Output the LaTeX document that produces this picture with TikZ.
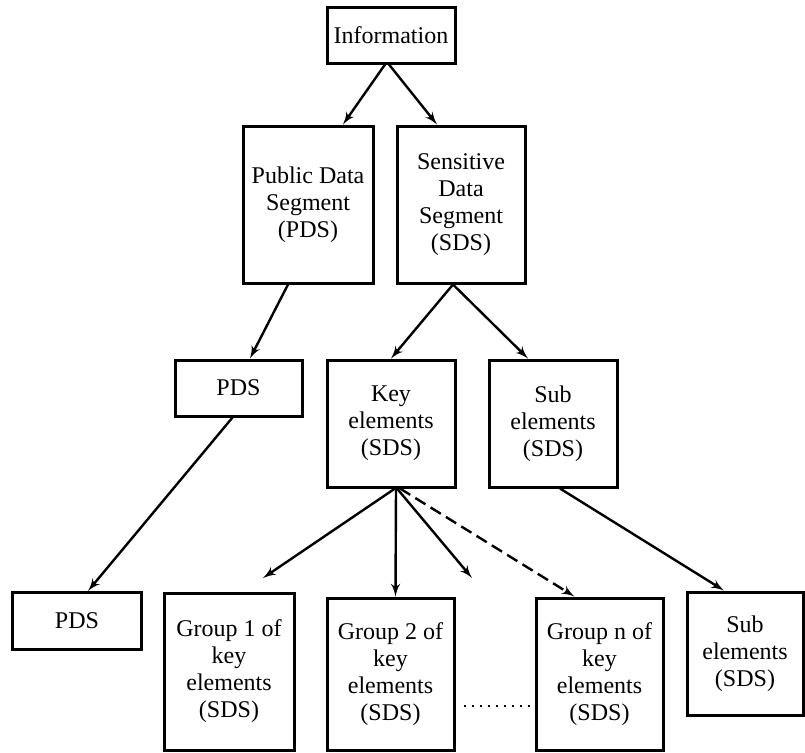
\documentclass[tikz,border=0pt]{standalone}
\usepackage{fontspec}
\setmainfont{Liberation Serif}
\usetikzlibrary{arrows}
\usetikzlibrary{positioning}
\usetikzlibrary{calc}

\begin{document}
\begin{tikzpicture}[->,>=latex', x=0.5pt, y=-0.5pt, line width=1.2pt]
            \tikzstyle{block}=[draw, line width=1.5pt, align=center, inner sep=2pt, font=\fontsize{12}{13.5}\selectfont]
            \useasboundingbox (0,0) rectangle (805,752);

            % top levels
            \node[block, minimum width=64pt, minimum height=28pt]     (info) at (391,35)    {Information};
            \node[block, minimum width=65pt, minimum height=78.5pt]   (pds)  at (308,204.5) {Public Data\\Segment\\(PDS)};
            \node[block, minimum width=64pt, minimum height=78.5pt]   (sds)  at (461,204.5) {Sensitive\\Data\\Segment\\(SDS)};
            \node[block, minimum width=63.5pt, minimum height=28pt]   (pdsa) at (238.5,388) {PDS};
            \node[block, minimum width=64pt, minimum height=63.5pt]   (key)  at (391,423.5) {Key\\elements\\(SDS)};
            \node[block, minimum width=64pt, minimum height=63.5pt]   (suba) at (553,423.5) {Sub\\elements\\(SDS)};

            % bottom row
            \node[block, minimum width=64.5pt, minimum height=28.5pt] (pdsb) at (77,621)    {PDS};
            \node[block, minimum width=65pt, minimum height=78.5pt]   (grpa) at (229,671.5) {Group 1 of\\key\\elements\\(SDS)};
            \node[block, minimum width=63.5pt, minimum height=76pt]   (grpb) at (390.5,674) {Group 2 of\\key\\elements\\(SDS)};
            \node[block, minimum width=63.5pt, minimum height=76pt]   (grpn) at (599.5,674) {Group n of\\key\\elements\\(SDS)};
            \node[block, minimum width=58pt, minimum height=61.5pt]   (subb) at (745,653.5) {Sub\\elements\\(SDS)};

            \coordinate (tipa) at (263,578);
            \coordinate (tipb) at (472,578);

            \draw ($(info.south)+(-6,0)$) -- ($(pds.north)+(35,0)$);
            \draw ($(info.south)+(-2,0)$) -- ($(sds.north)+(-24,0)$);
            \draw ($(pds.south)+(-20,0)$) -- ($(pdsa.north)+(11.5,0)$);
            \draw ($(sds.south)+(-8,0)$) -- (key.north);
            \draw ($(sds.south)+(-8,0)$) -- ($(suba.north)+(-25,0)$);
            \draw ($(pdsa.south)+(-6,0)$) -- ($(pdsb.north)+(11,0)$);
            \draw ($(key.south)+(4,0)$) -- (tipa);
            \draw ($(key.south)+(5,0)$) -- ($(grpb.north)+(5,0)$);
            \draw ($(key.south)+(6,0)$) -- (tipb);
            \draw[dash pattern=on 6pt off 3pt] ($(key.south)+(9,0)$) -- ($(grpn.north)+(-25,0)$);
            \draw ($(suba.south)+(7,0)$) -- ($(subb.north)+(-21,0)$);
            \draw[-, line width=1.2pt, dash pattern=on 1.2pt off 2.8pt] ($(grpb.east)+(8,32)$) -- ($(grpn.west)+(-2,32)$);
          \end{tikzpicture}
\end{document}
